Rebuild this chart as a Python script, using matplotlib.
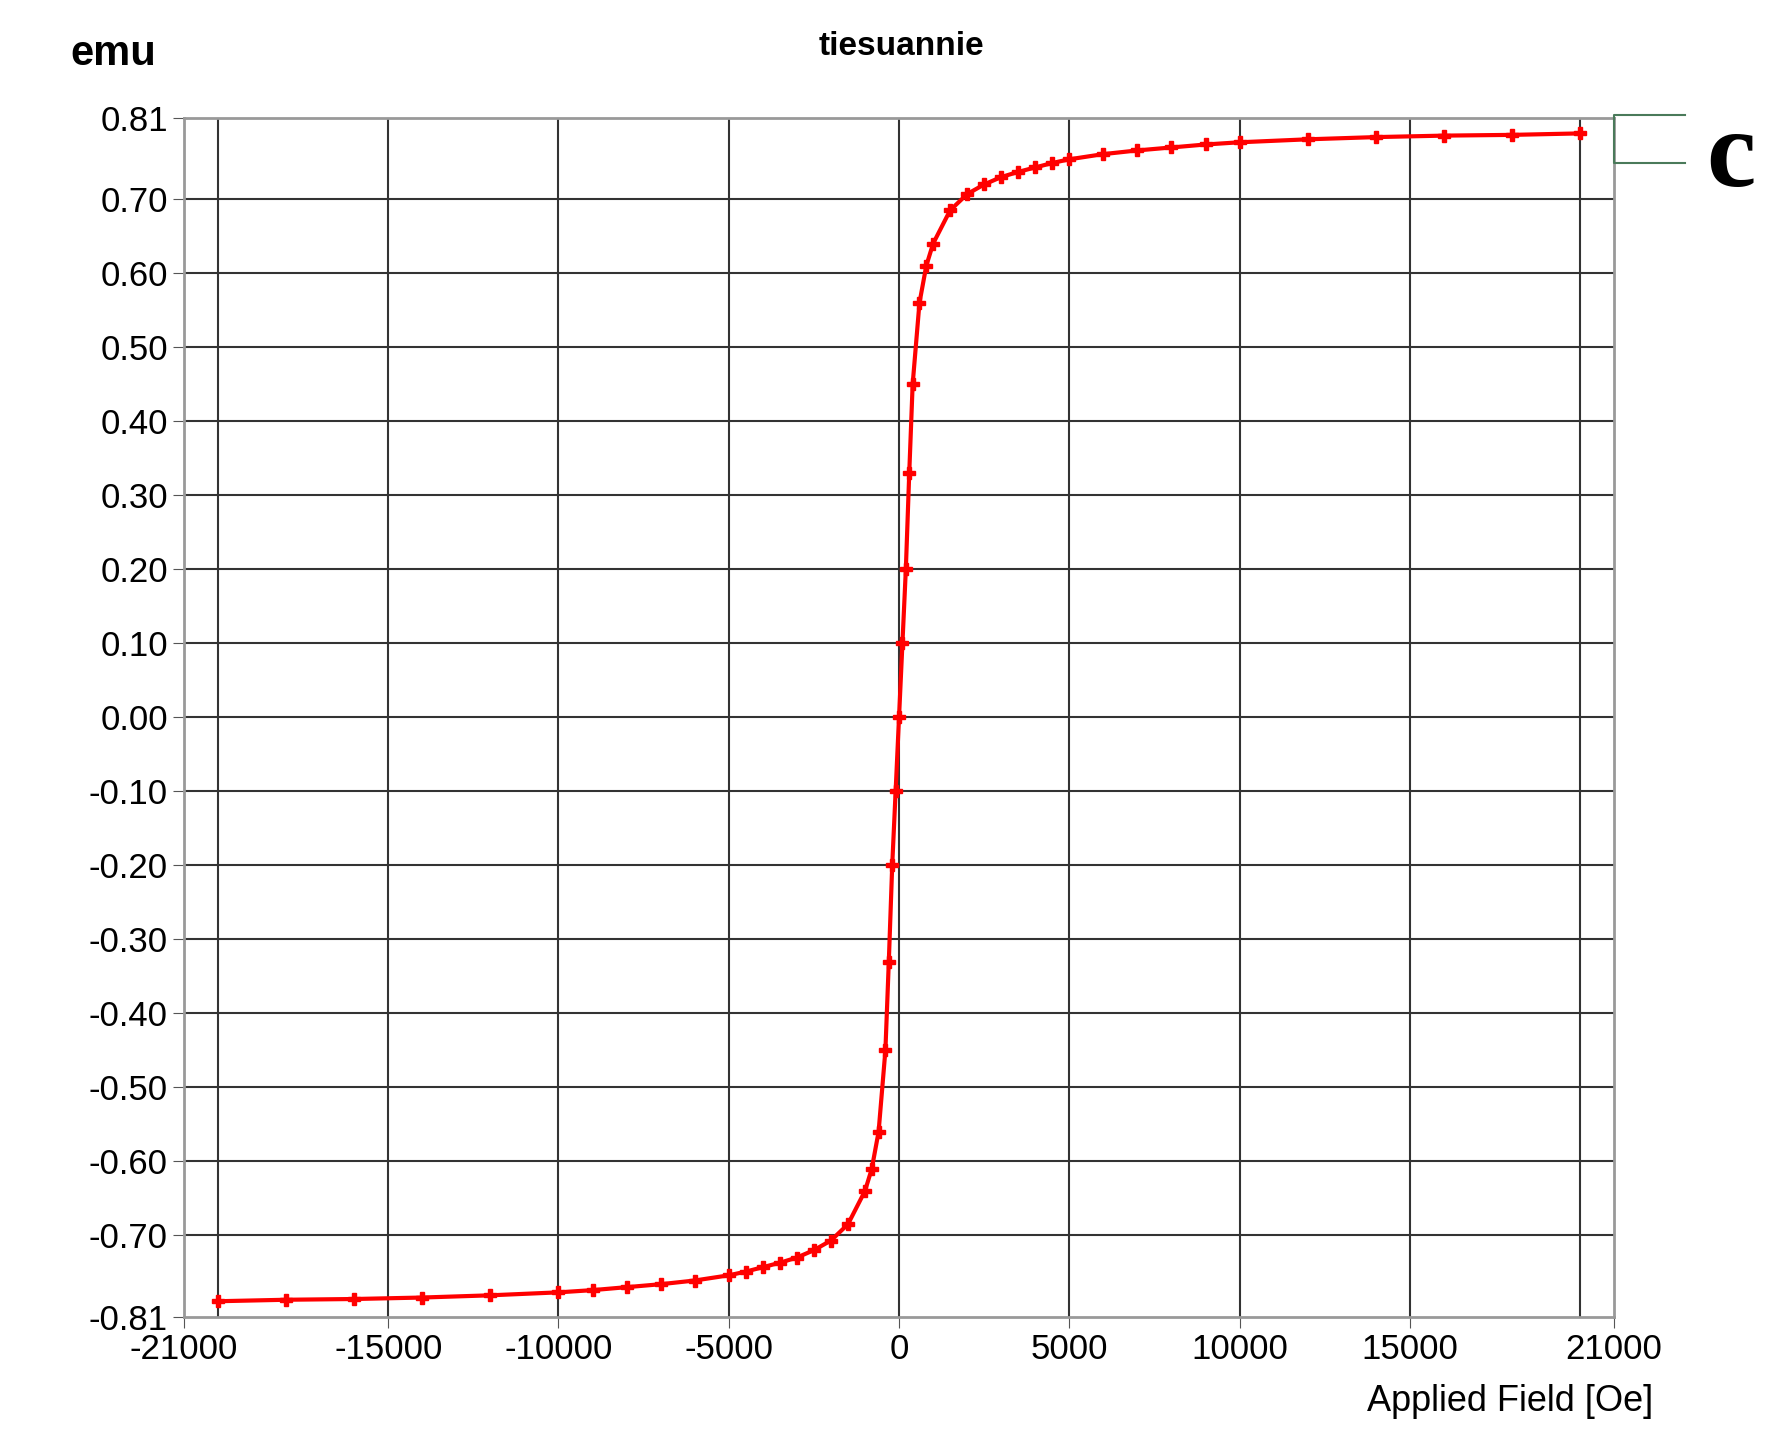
import matplotlib
matplotlib.use("Agg")
import matplotlib.pyplot as plt
from matplotlib.lines import Line2D

# field (Oe) and moment (emu)
field_pos = [0, 100, 200, 300, 400, 600, 800, 1000, 1500, 2000, 2500, 3000, 3500,
             4000, 4500, 5000, 6000, 7000, 8000, 9000, 10000, 12000, 14000, 16000,
             18000, 20000]
emu_pos = [0.0, 0.10, 0.20, 0.33, 0.45, 0.56, 0.61, 0.64, 0.685, 0.707, 0.720,
           0.730, 0.737, 0.743, 0.749, 0.754, 0.761, 0.766, 0.770, 0.774, 0.777,
           0.781, 0.784, 0.786, 0.787, 0.789]
field = [-f for f in field_pos[::-1]] + field_pos[1:]
emu = [-m for m in emu_pos[::-1]] + emu_pos[1:]

xticks = [-21000, -15000, -10000, -5000, 0, 5000, 10000, 15000, 21000]
xgrid = [-20000, -15000, -10000, -5000, 0, 5000, 10000, 15000, 20000]
yticks = [-0.81, -0.70, -0.60, -0.50, -0.40, -0.30, -0.20, -0.10, 0.00,
          0.10, 0.20, 0.30, 0.40, 0.50, 0.60, 0.70, 0.81]

plt.rcParams['font.family'] = ['Liberation Sans', 'DejaVu Sans']
plt.rcParams['axes.unicode_minus'] = False
fig = plt.figure(figsize=(17.68, 14.55), dpi=100)
ax = fig.add_axes([0.104, 0.095, 0.809, 0.824])

for gx in xgrid:
    ax.axvline(gx, color='#333333', lw=1.5, zorder=1)
for gy in yticks[1:-1]:
    ax.axhline(gy, color='#333333', lw=1.5, zorder=1)

ax.plot(field, emu, color='red', lw=3, marker='P', ms=9, zorder=3)

ax.set_xlim(-21000, 21000)
ax.set_ylim(-0.81, 0.81)
ax.set_xticks(xticks)
ax.set_yticks(yticks)
ax.set_yticklabels([f"{v:.2f}" for v in yticks])
ax.tick_params(labelsize=25, length=8, color='#555555')
for s in ax.spines.values():
    s.set_color('#999999')
    s.set_linewidth(2)

fig.text(0.04, 0.955, "emu", fontsize=30, fontweight='bold')
fig.text(0.51, 0.962, "tiesuannie", fontsize=24, fontweight='bold', ha='center')
fig.text(0.935, 0.03, "Applied Field [Oe]", fontsize=26, ha='right')
fig.text(0.965, 0.872, "c", fontsize=80, fontweight='bold',
         family=['Liberation Serif', 'DejaVu Serif'])
# open box at the top right
fig.add_artist(Line2D([0.953, 0.913, 0.913, 0.953], [0.921, 0.921, 0.888, 0.888],
                      transform=fig.transFigure, color='#4a7a5a', lw=1.5))

fig.savefig("out.png")
